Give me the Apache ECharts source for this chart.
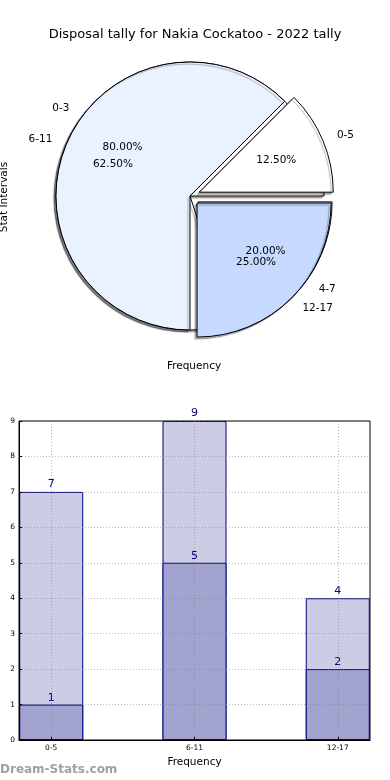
<!DOCTYPE html>
<html><head><meta charset="utf-8">
<script src="https://cdn.jsdelivr.net/npm/echarts@6/dist/echarts.min.js"></script>
<style>html,body{margin:0;padding:0;background:#fff;}#c{width:390px;height:780px;}</style>
</head><body><div id="c"></div>
<script>
const titleText = 'Disposal tally for Nakia Cockatoo - 2022 tally';
// pie 1 (drawn underneath)
const pie1Names = ['0-3', '4-7'];
const pie1Values = [4, 1];
const pie1Explode = [false, true];
// pie 2 (drawn on top)
const pie2Names = ['0-5', '6-11', '12-17'];
const pie2Values = [1, 5, 2];
const pie2Explode = [true, false, true];
// bar chart
const barCategories = ['0-5', '6-11', '12-17'];
const barTotals = [7, 9, 4];
const barInner = [1, 5, 2];

const FONT = 'DejaVu Sans';
const pie1Colors = ['#FFFFFF', '#EBF2FF'];
const pie2Colors = ['#FFFFFF', '#EBF2FF', '#C6DAFF'];
const PIE_C = [190, 196], PIE_R = 134;
const GRID_LINE = { type: [1, 2], color: 'rgba(120,120,120,0.5)', width: 1 };

function pieBase(names, values, explode, colors, visual) {
  return {
    type: 'pie', center: PIE_C, startAngle: 0, clockwise: false,
    selectedMode: 'multiple', selectedOffset: 10, avoidLabelOverlap: false,
    minShowLabelAngle: 0, labelLayout: { hideOverlap: false },
    animation: false, emphasis: { disabled: true }, silent: true,
    data: names.map((n, i) => ({
      name: n, value: values[i], selected: explode[i],
      itemStyle: { color: visual ? colors[i] : 'rgba(0,0,0,0)' }
    }))
  };
}
const shadow = { shadowColor: 'rgba(0,0,0,0.3)', shadowBlur: 1, shadowOffsetX: -2, shadowOffsetY: 2 };
function visualPie(names, values, explode, colors) {
  return Object.assign(pieBase(names, values, explode, colors, true), {
    radius: PIE_R,
    itemStyle: Object.assign({ borderColor: '#000', borderWidth: 1 }, shadow),
    select: { itemStyle: Object.assign({ borderColor: '#000', borderWidth: 1 }, shadow) },
    label: { show: true, position: 'outside', formatter: '{b}', fontFamily: FONT, fontSize: 10.5, color: '#000', distanceToLabelLine: 0 },
    labelLine: { show: false, length: 15, length2: 0 }
  });
}
function pctPie(names, values, explode) {
  return Object.assign(pieBase(names, values, explode, null, false), {
    radius: [PIE_R * 0.2, PIE_R],
    itemStyle: { borderWidth: 0 },
    select: { itemStyle: { borderWidth: 0 } },
    label: { show: true, position: 'inside', fontFamily: FONT, fontSize: 10.5, color: '#000',
      formatter: p => p.percent.toFixed(2) + '%' },
    labelLine: { show: false }
  });
}

const chart = echarts.init(document.getElementById('c'), null, { renderer: 'canvas' });
chart.setOption({
  backgroundColor: '#fff',
  animation: false,
  textStyle: { fontFamily: FONT },
  title: [{ text: titleText, left: 'center', top: 23,
    textStyle: { fontFamily: FONT, fontSize: 13, fontWeight: 'normal', color: '#000' } }],
  graphic: [
    { type: 'text', x: 4, y: 197, rotation: Math.PI / 2, style: { text: 'Stat Intervals', font: '10.5px "DejaVu Sans"', fill: '#000', align: 'center', verticalAlign: 'middle' }, silent: true },
    { type: 'text', x: 194, y: 366, style: { text: 'Frequency', font: '10.5px "DejaVu Sans"', fill: '#000', align: 'center', verticalAlign: 'middle' }, silent: true },
    { type: 'text', x: 0, y: 770, style: { text: 'Dream-Stats.com', font: 'bold 12px "DejaVu Sans"', fill: '#a0a0a0', align: 'left', verticalAlign: 'middle' }, silent: true }
  ],
  grid: { left: 19, right: 20, top: 421, bottom: 40, containLabel: false, outerBoundsMode: 'none',
    show: true, borderColor: '#000', borderWidth: 1, backgroundColor: 'transparent' },
  xAxis: {
    type: 'value', min: -0.225, max: 2.225, z: 6,
    name: 'Frequency', nameLocation: 'middle', nameGap: 17,
    nameTextStyle: { fontFamily: FONT, fontSize: 10.5, color: '#000' },
    axisLine: { show: true, onZero: false, lineStyle: { color: '#000' } },
    axisTick: { show: true, inside: true, length: 3, customValues: [0, 1, 2], lineStyle: { color: '#000' } },
    axisLabel: { customValues: [0, 1, 2], formatter: v => barCategories[Math.round(v)], fontFamily: FONT, fontSize: 7.5, color: '#000', margin: 4 },
    splitLine: { show: false }
  },
  yAxis: {
    type: 'value', min: 0, max: 9, interval: 1, z: 6,
    name: 'Stat Intervals', nameLocation: 'middle', nameGap: 12,
    nameTextStyle: { fontFamily: FONT, fontSize: 10.5, color: '#000' },
    axisLine: { show: true, onZero: false, lineStyle: { color: '#000' } },
    axisTick: { show: true, inside: true, length: 3, lineStyle: { color: '#000' } },
    axisLabel: { fontFamily: FONT, fontSize: 7.5, color: '#000', margin: 4 },
    splitLine: { show: true, lineStyle: GRID_LINE }
  },
  series: [
    visualPie(pie1Names, pie1Values, pie1Explode, pie1Colors),
    visualPie(pie2Names, pie2Values, pie2Explode, pie2Colors),
    pctPie(pie1Names, pie1Values, pie1Explode),
    pctPie(pie2Names, pie2Values, pie2Explode),
    { type: 'bar', data: barTotals.map((v, i) => [i, v]), barWidth: 64, barGap: '-100%',
      itemStyle: { color: '#CCCCE4', borderColor: '#000080', borderWidth: 1 },
      label: { show: true, position: 'top', distance: 2, color: '#000080', fontFamily: FONT, fontSize: 11 } },
    { type: 'bar', data: barInner.map((v, i) => [i, v]), barWidth: 64, barGap: '-100%',
      itemStyle: { color: '#A3A3D0', borderColor: '#000080', borderWidth: 1 },
      label: { show: true, position: 'top', distance: 1, color: '#000080', fontFamily: FONT, fontSize: 11 },
      markLine: { silent: true, symbol: 'none', z: 5, label: { show: false },
        lineStyle: GRID_LINE, emphasis: { disabled: true },
        data: barCategories.map((c, i) => ({ xAxis: i })) } }
  ]
});
</script></body></html>
